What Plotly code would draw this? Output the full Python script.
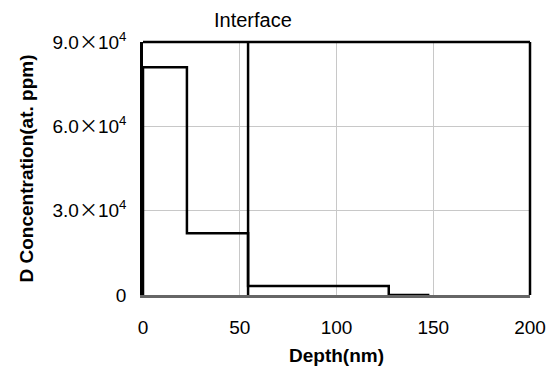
import plotly.graph_objects as go

depth = [0, 0, 22.7, 54.3, 127, 148]
conc = [0, 81000, 22000, 3200, 0, 0]
interface_depth = 54.3
y_max = 90000
y_ticks = [0, 30000, 60000, 90000]
X = '<span style="font-family:Noto Sans CJK JP;font-size:19px">\u00d7</span>'
y_ticktext = ["0", "3.0" + X + "10<sup>4</sup>", "6.0" + X + "10<sup>4</sup>", "9.0" + X + "10<sup>4</sup>"]
x_ticks = [0, 50, 100, 150, 200]

FONT = "Liberation Sans, Arial"

fig = go.Figure()
fig.add_trace(go.Scatter(x=depth, y=conc, mode="lines", line=dict(color="black", width=2.5, shape="hv"),
                         showlegend=False, cliponaxis=False))
fig.add_trace(go.Scatter(x=[interface_depth, interface_depth], y=[0, y_max], mode="lines",
                         line=dict(color="black", width=2.5), showlegend=False))
fig.add_annotation(x=interface_depth, y=1, yref="paper", yshift=9, text="Interface", showarrow=False,
                   yanchor="bottom", xanchor="center", xshift=5,
                   font=dict(family=FONT, size=20, color="black"))
# top and right borders of the frame (black); bottom axis line is gray
fig.add_shape(type="line", xref="paper", yref="paper", x0=0, x1=1, y0=1, y1=1,
              line=dict(color="black", width=2.5))
fig.add_shape(type="line", xref="paper", yref="paper", x0=1, x1=1, y0=0, y1=1,
              line=dict(color="black", width=2.5))

fig.update_layout(
    width=555, height=369,
    margin=dict(l=143, r=25, t=42, b=74),
    plot_bgcolor="white", paper_bgcolor="white",
    font=dict(family=FONT, size=19, color="black"),
    xaxis=dict(range=[0, 200], tickvals=x_ticks, showgrid=True, gridcolor="#c8c8c8", gridwidth=1,
               zeroline=False, showline=True, linecolor="#666666", linewidth=3, mirror=False,
               layer="below traces", automargin=False,
               ticks="outside", ticklen=13, tickcolor="rgba(0,0,0,0)",
               title=dict(text="<b>Depth(nm)</b>", font=dict(size=19), standoff=12)),
    yaxis=dict(range=[0, y_max], tickvals=y_ticks, ticktext=y_ticktext, showgrid=True, gridcolor="#c8c8c8",
               gridwidth=1, zeroline=False, showline=True, linecolor="black", linewidth=2.5, mirror=False,
               automargin=False,
               ticks="outside", ticklen=10, tickcolor="rgba(0,0,0,0)",
               title=dict(text="<b>D Concentration(at. ppm)</b>", font=dict(size=19), standoff=14)),
)
fig.write_html("out.html")
